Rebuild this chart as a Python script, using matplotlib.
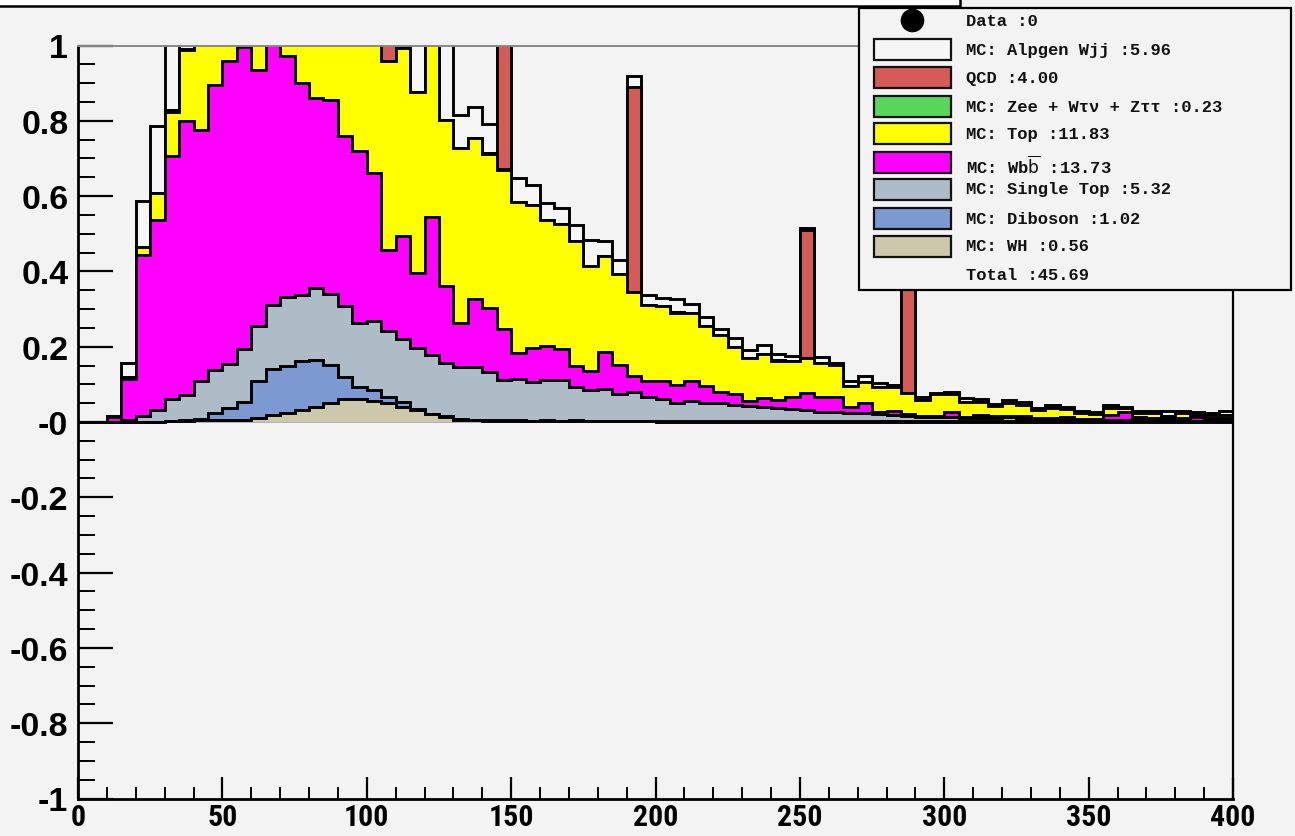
import matplotlib
matplotlib.use("Agg")
import matplotlib.pyplot as plt
import numpy as np
from matplotlib.patches import Rectangle
from matplotlib.lines import Line2D
from matplotlib.ticker import MultipleLocator, FixedLocator
from matplotlib import font_manager
from matplotlib.font_manager import FontProperties

# ---------------- data (bin contents, 5-unit bins from 0 to 400) ----------------
bin_edges = list(range(0, 405, 5))

wh = [0, 0, 0, 0, 0, 0, 0.002, 0.003, 0.004, 0.004,
      0.005, 0.006, 0.011, 0.018, 0.024, 0.033, 0.041, 0.05, 0.06, 0.06,
      0.056, 0.05, 0.04, 0.033, 0.02, 0.012, 0.006, 0.004, 0.003, 0.002,
      0.002, 0.002, 0.002, 0.002, 0.002, 0.002, 0.002, 0.002, 0.002, 0.002,
      0.001, 0.001, 0.001, 0.001, 0.001, 0.001, 0.001, 0.001, 0.001, 0.001,
      0.001, 0.001, 0.001, 0.001, 0.001, 0.001, 0.001, 0.001, 0.001, 0.001,
      0.001, 0.001, 0.001, 0.001, 0.001, 0.001, 0.001, 0.001, 0.001, 0.001,
      0.001, 0.001, 0.001, 0.001, 0.001, 0.001, 0.001, 0.001, 0.001, 0.001]

diboson = [0, 0, 0, 0, 0, 0, 0.001, 0.002, 0.005, 0.021,
           0.031, 0.048, 0.099, 0.122, 0.126, 0.129, 0.125, 0.102, 0.06, 0.034,
           0.03, 0.017, 0.012, 0.001, 0.002, 0.003, 0.002, 0.002, 0.003, 0.002,
           0.002, 0.001, 0.002, 0.001, 0.004, 0.001, 0.001, 0.001, 0.001, 0.0,
           0.001, 0.001, 0.001, 0.001, 0.001, 0.001, 0.001, 0.001, 0.001, 0.001,
           0.001, 0.001, 0.001, 0.001, 0.001, 0.001, 0.001, 0.001, 0.001, 0.001,
           0.001, 0.001, 0.001, 0.001, 0.001, 0.001, 0.001, 0.001, 0.001, 0.001,
           0.001, 0.001, 0.001, 0.001, 0.001, 0.001, 0.001, 0.001, 0.001, 0.001]

single_top = [0, 0, 0.001, 0.006, 0.017, 0.031, 0.058, 0.067, 0.101, 0.114,
              0.119, 0.139, 0.144, 0.171, 0.181, 0.175, 0.189, 0.188, 0.187, 0.17,
              0.183, 0.176, 0.169, 0.162, 0.155, 0.141, 0.138, 0.14, 0.127, 0.108,
              0.11, 0.103, 0.108, 0.109, 0.087, 0.083, 0.084, 0.071, 0.078, 0.064,
              0.06, 0.048, 0.053, 0.048, 0.048, 0.043, 0.041, 0.039, 0.036, 0.032,
              0.03, 0.025, 0.025, 0.023, 0.021, 0.018, 0.017, 0.015, 0.012, 0.012,
              0.01, 0.008, 0.008, 0.008, 0.01, 0.006, 0.005, 0.006, 0.004, 0.004,
              0.003, 0.004, 0.003, 0.002, 0.003, 0.002, 0.002, 0.001, 0.002, 0.001]

wbb = [0, 0, 0.011, 0.109, 0.426, 0.505, 0.646, 0.728, 0.666, 0.755,
       0.803, 0.804, 0.68, 0.719, 0.642, 0.563, 0.505, 0.516, 0.452, 0.455,
       0.393, 0.214, 0.273, 0.201, 0.368, 0.205, 0.116, 0.181, 0.169, 0.134,
       0.069, 0.09, 0.09, 0.082, 0.056, 0.05, 0.1, 0.078, 0.04, 0.044,
       0.046, 0.047, 0.055, 0.045, 0.03, 0.03, 0.014, 0.024, 0.02, 0.033,
       0.046, 0.04, 0.04, 0.016, 0.027, 0.007, 0.011, 0.004, 0.002, 0.002,
       0.014, 0.004, 0.009, 0.006, 0.004, 0.008, 0.003, 0.002, 0.006, 0.001,
       0.002, 0.013, 0.022, 0.008, 0.005, 0.007, 0.006, 0.011, 0.006, 0.007]

top = [0, 0, 0.001, 0.005, 0.021, 0.071, 0.116, 0.187, 0.35, 0.35,
       0.4, 0.4, 0.45, 0.45, 0.45, 0.45, 0.45, 0.45, 0.45, 0.45,
       0.45, 0.501, 0.5, 0.479, 0.52, 0.44, 0.467, 0.428, 0.409, 0.423,
       0.402, 0.38, 0.334, 0.333, 0.332, 0.279, 0.255, 0.24, 0.224, 0.201,
       0.199, 0.193, 0.179, 0.159, 0.15, 0.125, 0.114, 0.115, 0.105, 0.095,
       0.091, 0.089, 0.084, 0.054, 0.057, 0.067, 0.064, 0.055, 0.042, 0.058,
       0.048, 0.04, 0.035, 0.026, 0.035, 0.029, 0.022, 0.026, 0.022, 0.016,
       0.013, 0.017, 0.009, 0.011, 0.013, 0.005, 0.015, 0.005, 0.008, 0.009]

zee = [0] * 80
zee[6] = 0.005; zee[21] = 0.002; zee[28] = 0.003; zee[29] = 0.004; zee[41] = 0.003; zee[48] = 0.002

qcd = [0] * 80
qcd[21] = 0.2; qcd[29] = 0.45; qcd[38] = 0.545; qcd[50] = 0.34; qcd[57] = 0.4

alpgen = [0, 0, 0.002, 0.036, 0.123, 0.178, 0.3, 0.003, 0.2, 0.2,
          0.2, 0.2, 0.2, 0.2, 0.2, 0.2, 0.2, 0.2, 0.2, 0.2,
          0.2, 0.1, 0.003, 0.2, 0.1, 0.25, 0.086, 0.082, 0.077, 0.1,
          0.063, 0.053, 0.047, 0.042, 0.042, 0.068, 0.039, 0.038, 0.028, 0.026,
          0.022, 0.034, 0.024, 0.026, 0.016, 0.024, 0.019, 0.024, 0.015, 0.013,
          0.005, 0.016, 0.007, 0.014, 0.016, 0.009, 0.004, 0.005, 0.009, 0.004,
          0.005, 0.009, 0.006, 0.006, 0.007, 0.009, 0.006, 0.009, 0.007, 0.007,
          0.007, 0.009, 0.005, 0.006, 0.007, 0.013, 0.005, 0.007, 0.007, 0.01]

# stack order bottom -> top
stack_series = [wh, diboson, single_top, wbb, top, zee, qcd, alpgen]
stack_colors = ["#cdc8ac", "#7c9ad1", "#adbcc7", "#ff00ff", "#ffff00", "#59d75a", "#d45b57", "#f6f6f6"]

legend_labels = ["Data :0", "MC: Alpgen Wjj :5.96", "QCD :4.00",
                 "MC: Zee + W\u03c4\u03bd + Z\u03c4\u03c4 :0.23", "MC: Top :11.83",
                 r"MC: Wb$\overline{\mathrm{b}}$ :13.73", "MC: Single Top :5.32",
                 "MC: Diboson :1.02", "MC: WH :0.56", "Total :45.69"]
legend_colors = [None, "#f6f6f6", "#d45b57", "#59d75a", "#ffff00", "#ff00ff",
                 "#adbcc7", "#7c9ad1", "#cdc8ac", None]

y_ticks = [-1, -0.8, -0.6, -0.4, -0.2, 0, 0.2, 0.4, 0.6, 0.8, 1]
y_ticklabels = ["-1", "-0.8", "-0.6", "-0.4", "-0.2", "-0", "0.2", "0.4", "0.6", "0.8", "1"]
x_ticks = [0, 50, 100, 150, 200, 250, 300, 350, 400]

# ---------------- figure ----------------
W, H = 1295, 837
BG = "#f3f3f3"
fig = plt.figure(figsize=(W / 100, H / 100), dpi=100, facecolor=BG)

def fx(x):
    return x / W

def fy(y):
    return 1 - y / H

ax = fig.add_axes([fx(78), fy(799.5), (1233 - 78) / W, (799.5 - 46.5) / H])
ax.set_facecolor(BG)

cum = np.cumsum(np.array(stack_series, dtype=float), axis=0)
edges = np.array(bin_edges, dtype=float)
for level in range(len(stack_series) - 1, -1, -1):
    ax.stairs(cum[level], edges, baseline=0, fill=True,
              facecolor=stack_colors[level], edgecolor="black",
              linewidth=2.1, zorder=2 + (len(stack_series) - level) * 0.01)

ax.set_xlim(0, 400)
ax.set_ylim(-1, 1)

# ---- choose a condensed bold sans font for the x labels (if one is installed)
def _is_bold(w):
    if isinstance(w, (int, float)):
        return w >= 600
    return str(w).lower() in ("bold", "heavy", "black", "demibold", "semibold", "extra bold", "ultrabold")

def _rank(f):
    nm = f.name
    order = ["Liberation Sans Narrow", "Roboto Condensed", "Noto Sans", "Open Sans", "DejaVu Sans"]
    for i, o in enumerate(order):
        if nm.startswith(o):
            return i
    return len(order)

cands = []
for f in font_manager.fontManager.ttflist:
    nm = f.name
    st = str(f.stretch).lower()
    narrow = ("Narrow" in nm or "Condensed" in nm or "condensed" in st)
    if (narrow and _is_bold(f.weight) and f.style == "normal"
            and "Mono" not in nm and "Serif" not in nm and "CJK" not in nm):
        cands.append(f)
cands.sort(key=_rank)
if cands:
    xfp = FontProperties(fname=cands[0].fname)
else:
    xfp = FontProperties(family="Liberation Sans", weight="bold")

# scale x-label size so that "100" is about 54 px wide, but keep it inside the figure
fig.canvas.draw()
rend = fig.canvas.get_renderer()
probe = fig.text(0, 0, "100", fontproperties=xfp, fontsize=20)
wpx = probe.get_window_extent(rend).width
probe.remove()
xsize = min(21.5, 20.0 * 54.0 / max(wpx, 1.0))
xfp.set_size(xsize)

ax.yaxis.set_major_locator(FixedLocator(y_ticks))
ax.set_yticklabels(y_ticklabels, fontfamily="Liberation Sans", fontweight="bold", fontsize=24.5)
ax.yaxis.set_minor_locator(MultipleLocator(0.05))
ax.xaxis.set_major_locator(FixedLocator(x_ticks))
ax.set_xticklabels([str(v) for v in x_ticks], fontproperties=xfp)
ax.xaxis.set_minor_locator(MultipleLocator(10))

ax.tick_params(axis="y", which="major", direction="in", length=25, width=1.6, pad=7,
               left=True, right=False)
ax.tick_params(axis="y", which="minor", direction="in", length=12.5, width=1.4,
               left=True, right=False)
ax.tick_params(axis="x", which="major", direction="in", length=16, width=1.6, pad=3,
               bottom=True, top=False)
ax.tick_params(axis="x", which="minor", direction="in", length=8.5, width=1.4,
               bottom=True, top=False)

for side in ["left", "bottom"]:
    ax.spines[side].set_linewidth(2.0)
    ax.spines[side].set_color("black")
ax.spines["right"].set_linewidth(1.6)
ax.spines["right"].set_color("black")
ax.spines["top"].set_linewidth(1.4)
ax.spines["top"].set_color("#888888")
for s in ax.spines.values():
    s.set_zorder(5)

# ---------------- title box (cut off at top) ----------------
fig.add_artist(Rectangle((fx(-3), fy(7)), fx(963), 12 / H, transform=fig.transFigure,
                         facecolor="white", edgecolor="black", linewidth=1.8,
                         clip_on=False, zorder=6))

# ---------------- legend ----------------
fig.add_artist(Rectangle((fx(859), fy(291)), fx(1291 - 859), (291 - 9) / H,
                         transform=fig.transFigure, facecolor=BG, edgecolor="black",
                         linewidth=1.6, zorder=7))
row_y = [21, 50, 78, 107, 134, 166, 190, 219, 247, 276]
text_x = 966
for i, (lab, col) in enumerate(zip(legend_labels, legend_colors)):
    yc = row_y[i]
    if i == 0:
        fig.add_artist(Line2D([fx(912)], [fy(yc)], transform=fig.transFigure, marker="o",
                              markersize=16, color="black", linestyle="none", zorder=8))
    elif col is not None:
        boxy = yc if i != 5 else 163
        fig.add_artist(Rectangle((fx(874), fy(boxy + 10.5)), fx(77), 21 / H,
                                 transform=fig.transFigure, facecolor=col,
                                 edgecolor="#111111", linewidth=1.6, zorder=8))
    fig.text(fx(text_x), fy(yc), lab, fontfamily=["Liberation Mono", "DejaVu Sans Mono"],
             fontweight="bold", fontsize=12.3, va="center", ha="left", zorder=9,
             color="#111111")

fig.savefig("out.png", dpi=100, facecolor=BG)
